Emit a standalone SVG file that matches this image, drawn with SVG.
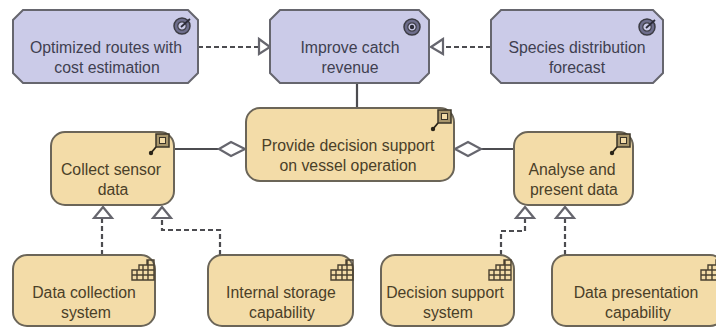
<svg xmlns="http://www.w3.org/2000/svg" width="716" height="327" viewBox="0 0 716 327">
<style>
.m{fill:#cbcbe8;stroke:#66666e;stroke-width:2}
.s{fill:#f3dca8;stroke:#6b6558;stroke-width:2}
text{font-family:"Liberation Sans",Arial,sans-serif;font-size:15.8px;text-anchor:middle}
.m~text{fill:#3f3f50}
.s~text{fill:#4a4028}
.c{fill:none;stroke:#4c4c50;stroke-width:2.2}
.d{stroke-dasharray:5 3}
.h{fill:#fff;stroke:#66666e;stroke-width:2.2}
.k{fill:none;stroke:#4a4030;stroke-width:1.4}
</style>
<defs>
<g id="goal"><circle r="8" fill="#6e6e8c" stroke="#3c3c44" stroke-width="1.5"/><circle r="4.2" fill="#cbcbe8" stroke="#3c3c44" stroke-width="1.2"/><circle r="2.2" fill="#2c2c38"/></g>
<g id="out"><circle r="8" fill="#6e6e8c" stroke="#3c3c44" stroke-width="1.5"/><circle r="4.2" fill="#cbcbe8" stroke="#3c3c44" stroke-width="1.2"/><path d="M-1 1L8-7" stroke="#2c2c38" stroke-width="1.8"/></g>
<g id="fn"><rect x="-4" y="-10" width="13" height="13" fill="#a8966c" stroke="#3a3428" stroke-width="1.5"/><rect x="-0.5" y="-6.5" width="6" height="6" fill="#f3dca8" stroke="#3a3428"/><path d="M-4 3L-9 9" stroke="#2a2418" stroke-width="1.8"/><circle cx="-9" cy="9" r="2.2" fill="#2a2418"/></g>
<g id="cap"><path class="k" d="M-11 10H11V-10H4V-5H-4V0H-11ZM-11 5H11M-4 0H11M-4 -5H11M-6 0V10M0 -5V10M5 -10V10"/></g>
</defs>
<g id="connectors">
<path class="c d" d="M198 47H259"/><path class="h" d="M259 39L270 47L259 54Z"/>
<path class="c d" d="M491 47H443"/><path class="h" d="M443 39L431 47L443 54Z"/>
<path class="c" d="M357 83V108"/>
<path class="c" d="M174 149H219"/><path class="h" d="M219 149L231 142L245 149L231 156Z"/>
<path class="c" d="M514 149H481"/><path class="h" d="M455 149L468 142L481 149L468 156Z"/>
<path class="c d" d="M102 255V218"/><path class="h" d="M103 207L112 218H94Z"/>
<path class="c d" d="M220 255V230H162V218"/><path class="h" d="M162 207L171 218H153Z"/>
<path class="c d" d="M501 255V231H525V218"/><path class="h" d="M525 207L534 218H516Z"/>
<path class="c d" d="M565 255V218"/><path class="h" d="M565 207L574 218H556Z"/>
</g>
<g id="optimized"><path class="m" d="M23 10H188L198 20V73L188 83H23L13 73V20Z"/><use href="#out" x="182" y="26"/><text x="106" y="53">Optimized routes with</text><text x="107" y="73">cost estimation</text></g>
<g id="improve"><path class="m" d="M280 10H419L429 20V73L419 83H280L270 73V20Z"/><use href="#goal" x="412" y="27"/><text x="350" y="53">Improve catch</text><text x="350" y="73">revenue</text></g>
<g id="species"><path class="m" d="M501 10H653L663 20V73L653 83H501L491 73V20Z"/><use href="#out" x="647" y="27"/><text x="577" y="53">Species distribution</text><text x="577" y="73">forecast</text></g>
<g id="provide"><rect class="s" x="246" y="108" width="208" height="73" rx="14"/><use href="#fn" x="442" y="120"/><text x="348" y="151">Provide decision support</text><text x="348" y="171">on vessel operation</text></g>
<g id="collect"><rect class="s" x="51" y="132" width="123" height="73" rx="14"/><use href="#fn" x="160" y="144"/><text x="111" y="175">Collect sensor</text><text x="113" y="195">data</text></g>
<g id="analyse"><rect class="s" x="514" y="132" width="119" height="73" rx="14"/><use href="#fn" x="621" y="144"/><text x="572" y="175">Analyse and</text><text x="574" y="195">present data</text></g>
<g id="datacollection"><rect class="s" x="13" y="255" width="142" height="71" rx="14"/><use href="#cap" x="143" y="270"/><text x="84" y="298">Data collection</text><text x="86" y="318">system</text></g>
<g id="internal"><rect class="s" x="208" y="255" width="145" height="71" rx="14"/><use href="#cap" x="342" y="270"/><text x="281" y="298">Internal storage</text><text x="282" y="318">capability</text></g>
<g id="decision"><rect class="s" x="381" y="255" width="133" height="71" rx="14"/><use href="#cap" x="500" y="270"/><text x="445" y="298">Decision support</text><text x="448" y="318">system</text></g>
<g id="datapresentation"><rect class="s" x="552" y="255" width="172" height="71" rx="14"/><use href="#cap" x="712" y="270"/><text x="636" y="298">Data presentation</text><text x="638" y="318">capability</text></g>
</svg>
